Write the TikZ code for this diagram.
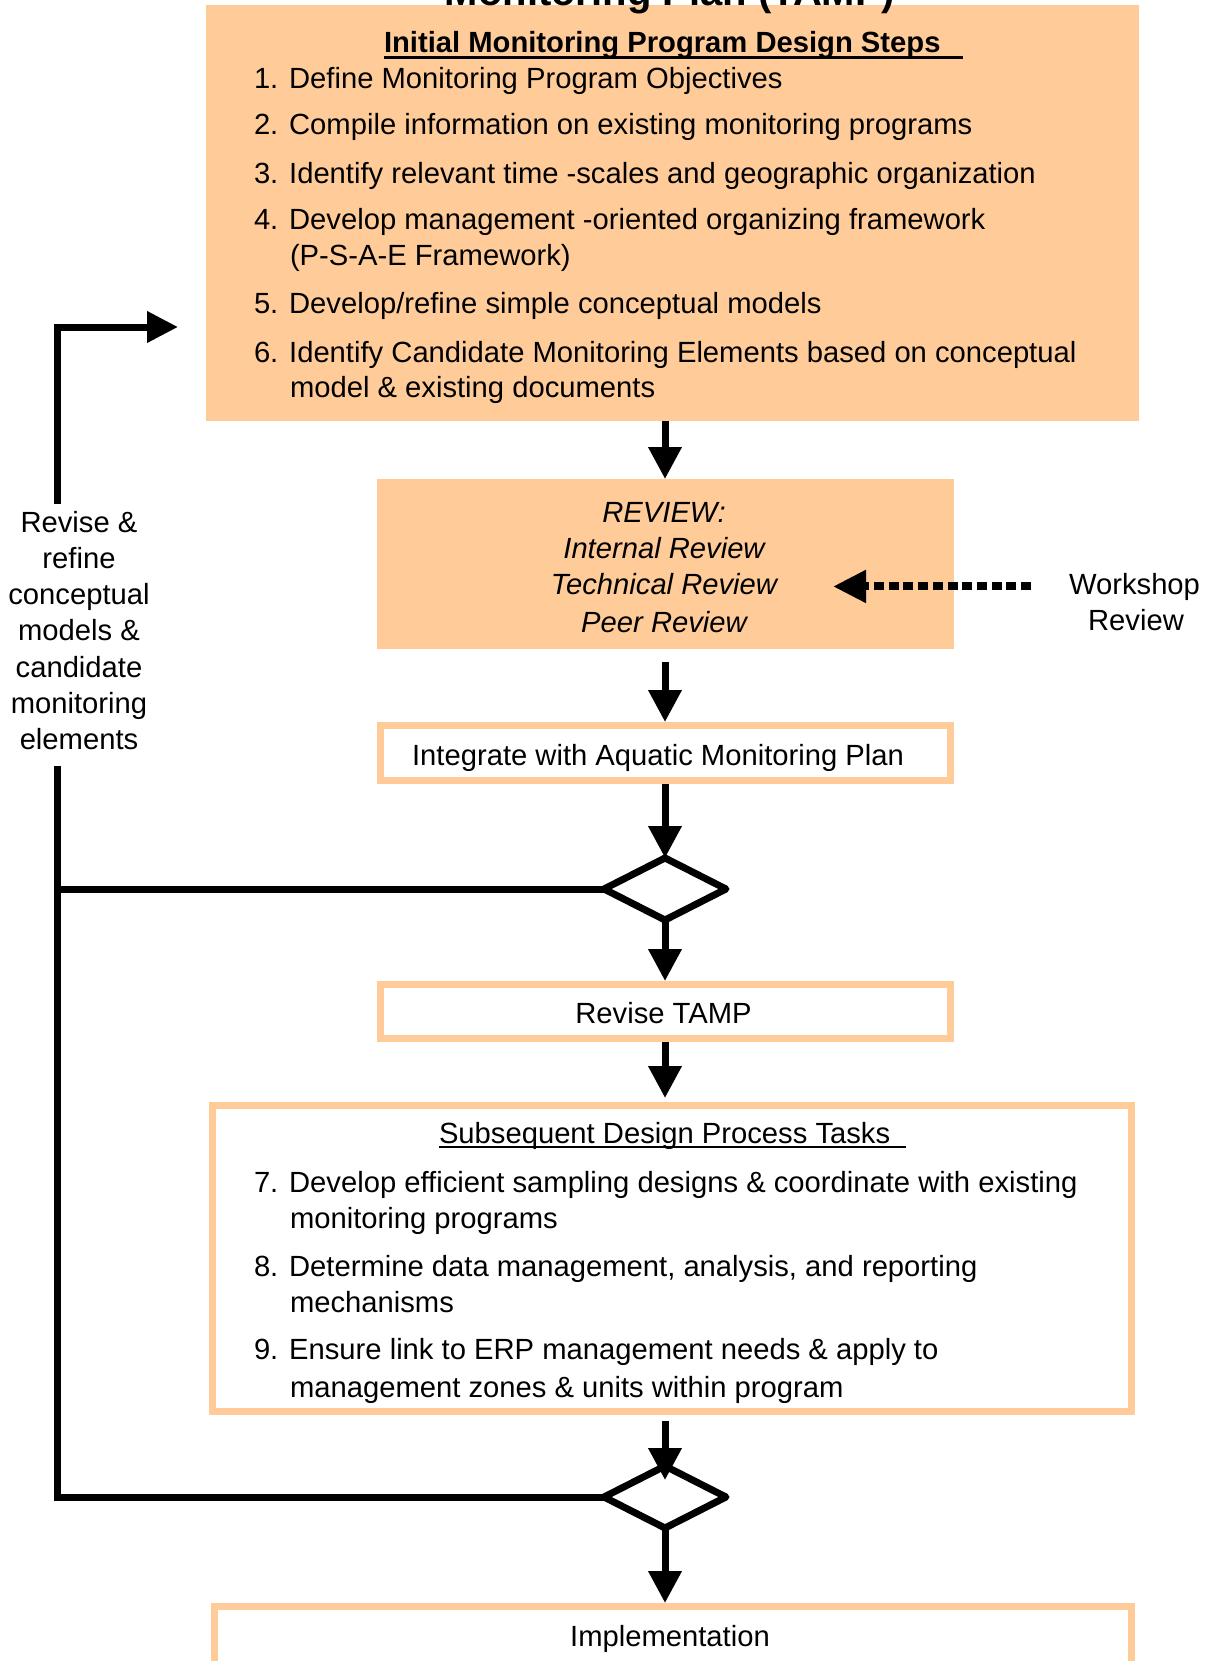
\documentclass[tikz,border=0pt]{standalone}
\usepackage{fontspec}
\setmainfont{Liberation Sans}
\usetikzlibrary{arrows.meta,shapes.geometric}
\definecolor{peach}{HTML}{FFCC99}
\newcommand{\bodyfont}{\fontsize{29.2}{36}\selectfont}

\tikzset{
  fillbox/.style={fill=peach, draw=none, inner sep=0pt, outer sep=0pt},
  framebox/.style={draw=peach, fill=white, line width=7pt, inner sep=0pt},
  txt/.style={inner sep=0pt, outer sep=0pt, font=\bodyfont},
  item/.style={txt, anchor=base west},
  ctr/.style={txt, anchor=base},
  flow/.style={line width=7pt, -{Triangle[length=32pt,width=32pt]}},
  loopline/.style={line width=7pt, line join=miter},
  dotflow/.style={line width=8pt, dash pattern=on 10pt off 4.7pt, -{Triangle[length=33pt,width=31pt]}},
  decision/.style={diamond, draw, fill=white, line width=7pt, line join=round,
    minimum width=122pt, minimum height=62pt, inner sep=0pt, outer sep=0pt},
}

\begin{document}
\begin{tikzpicture}[x=1pt,y=-1pt]
\useasboundingbox (0,0) rectangle (1205,1661);
\clip (0,0) rectangle (1205,1661);

% boxes
\node[fillbox, minimum width=933pt, minimum height=416pt] (steps) at (672.5,213) {};
\node[fillbox, minimum width=577pt, minimum height=170pt] (review) at (665.5,564) {};
\node[framebox, minimum width=570pt, minimum height=55pt] (integ) at (665,753) {};
\node[framebox, minimum width=570pt, minimum height=54pt] (revtamp) at (665,1011.5) {};
\node[framebox, minimum width=919pt, minimum height=306pt] (subs) at (672,1258.5) {};
\node[framebox, minimum width=917pt, minimum height=59pt] (impl) at (673,1636) {};
\node[decision] (d1) at (665,889) {};
\node[decision] (d2) at (665,1497) {};

% title (runs off the top edge)
\node[inner sep=0pt, anchor=base, font=\fontsize{40}{48}\selectfont\bfseries] (title) at (670,6) {Monitoring Plan (TAMP)};

% initial design steps
\node[item, font=\bodyfont\bfseries] (h1) at (384,53) {\rlap{\rule[-6pt]{579pt}{3pt}}Initial Monitoring Program Design Steps};
\node[item] (s1) at (254,89) {1. Define Monitoring Program Objectives};
\node[item] (s2) at (254,135) {2. Compile information on existing monitoring programs};
\node[item] (s3) at (254,184) {3. Identify relevant time -scales and geographic organization};
\node[item] (s4) at (254,230) {4. Develop management -oriented organizing framework};
\node[item] (s4b) at (290,266) {(P-S-A-E Framework)};
\node[item] (s5) at (254,314) {5. Develop/refine simple conceptual models};
\node[item] (s6) at (254,362) {6. Identify Candidate Monitoring Elements based on conceptual};
\node[item] (s6b) at (290,397) {model \& existing documents};

% review
\node[ctr, font=\bodyfont\itshape] (r1) at (664,522.5) {REVIEW:};
\node[ctr, font=\bodyfont\itshape] (r2) at (664,558.5) {Internal Review};
\node[ctr, font=\bodyfont\itshape] (r3) at (664,594.5) {Technical Review};
\node[ctr, font=\bodyfont\itshape] (r4) at (664,632) {Peer Review};

\node[ctr] (ws1) at (1134.5,594) {Workshop};
\node[ctr] (ws2) at (1136,630) {Review};

% single-line boxes
\node[ctr] (tinteg) at (658,765.5) {Integrate with Aquatic Monitoring Plan};
\node[ctr] (trev) at (663.5,1023) {Revise TAMP};
\node[ctr] (timpl) at (670,1646) {Implementation};

% subsequent tasks
\node[item] (h2) at (439,1143) {\rlap{\rule[-5pt]{467pt}{2.4pt}}Subsequent Design Process Tasks};
\node[item] (t7) at (254,1192) {7. Develop efficient sampling designs \& coordinate with existing};
\node[item] (t7b) at (290,1228) {monitoring programs};
\node[item] (t8) at (254,1276) {8. Determine data management, analysis, and reporting};
\node[item] (t8b) at (290,1312) {mechanisms};
\node[item] (t9) at (254,1359) {9. Ensure link to ERP management needs \& apply to};
\node[item] (t9b) at (290,1397) {management zones \& units within program};

% feedback label
\foreach \t [count=\i] in {Revise \&, refine, conceptual, models \&, candidate, monitoring, elements}
  \node[ctr] (fb\i) at (79,{496+36.2*\i}) {\t};

% main flow
\draw[flow] (steps.south -| d1) -- (review.north -| d1);
\draw[flow] ([yshift=-13pt]review.south -| d1) -- (integ.north);
\draw[flow] (integ.south) -- (d1.north);
\draw[flow] (d1.south) -- (revtamp.north);
\draw[flow] (revtamp.south) -- ([yshift=4pt]subs.north -| revtamp.south);
\draw[flow] ([yshift=-6pt]subs.south -| d2) -- ([yshift=-14pt]d2.north);
\draw[flow] (d2.south) -- (impl.north -| d2.south);

% workshop input
\draw[dotflow] ([xshift=-38pt]ws1.west) -- ([xshift=-121pt]ws1.west -| review.east);

% feedback loop
\coordinate (gaplo) at (57,766);
\coordinate (gaphi) at (57,504);
\coordinate (entry) at (178,327);
\draw[loopline] (d2.west) -| (gaplo);
\draw[loopline] (d1.west) -- (d1.west -| gaplo);
\draw[loopline, -{Triangle[length=31pt,width=30pt]}] (gaphi) |- (entry);
\end{tikzpicture}
\end{document}
